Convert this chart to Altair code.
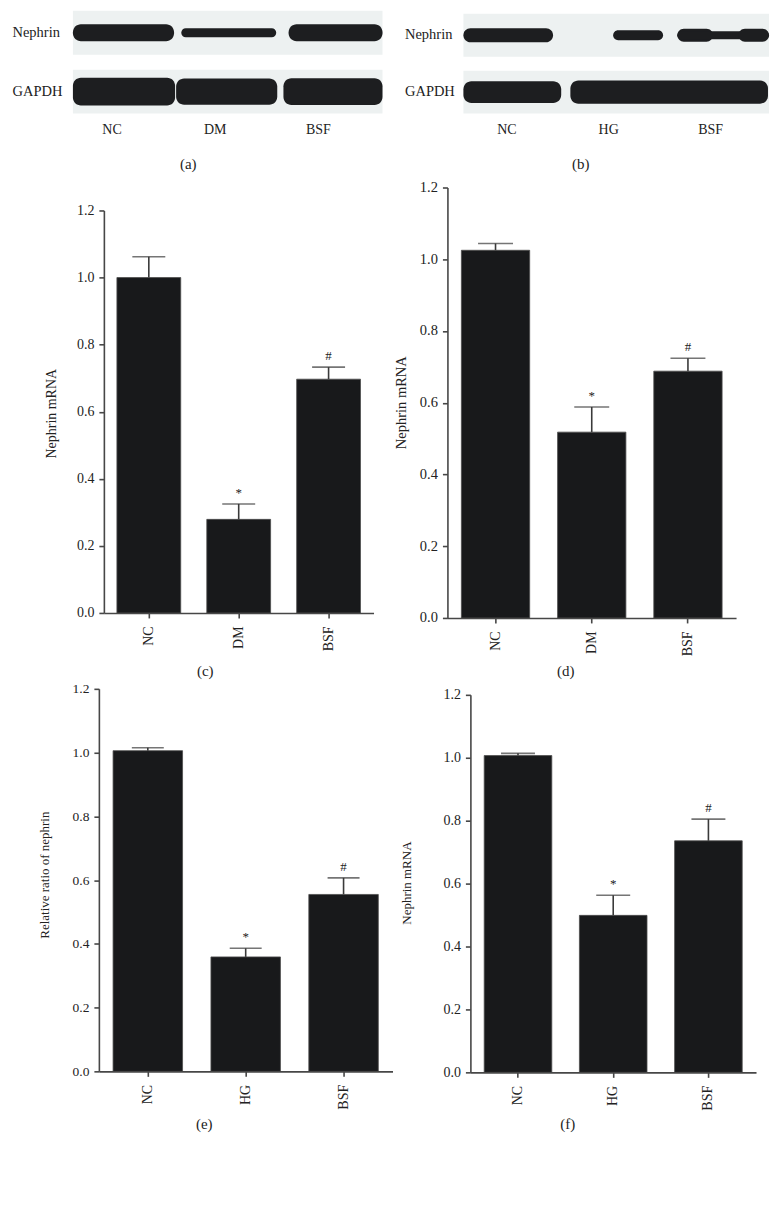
import json
import altair as alt
import pandas as pd

FONT = "Liberation Serif"
TEXT = "#222222"
AXIS = "#474747"
ERR = "#3a3a3a"
BAR = "#18191b"
BLOT_BG = "#edf1f1"

# ---------------- (a) Western blot, kidney tissue ----------------
a_lanes = ["NC", "DM", "BSF"]
a_rows = ["Nephrin", "GAPDH"]
a_band_row = ["Nephrin", "Nephrin", "Nephrin", "GAPDH", "GAPDH", "GAPDH"]
a_band_start = [0.00, 1.05, 2.09, 0.00, 1.00, 2.04]
a_band_end = [0.98, 1.97, 3.00, 0.99, 1.98, 3.00]
a_band_density = [0.57, 0.30, 0.57, 0.93, 0.87, 0.90]

# ---------------- (b) Western blot, podocytes ----------------
b_lanes = ["NC", "HG", "BSF"]
b_rows = ["Nephrin", "GAPDH"]
b_band_row = ["Nephrin", "Nephrin", "Nephrin", "Nephrin", "Nephrin", "GAPDH", "GAPDH"]
b_band_start = [0.00, 1.47, 2.10, 2.10, 2.70, 0.00, 1.05]
b_band_end = [0.88, 1.96, 2.45, 3.00, 3.00, 0.96, 2.99]
b_band_density = [0.47, 0.33, 0.43, 0.27, 0.43, 0.73, 0.77]

# ---------------- bar panels ----------------
y_ticks = [0.0, 0.2, 0.4, 0.6, 0.8, 1.0, 1.2]

c_groups = ["NC", "DM", "BSF"]
c_mean = [1.000, 0.279, 0.697]
c_sem = [0.062, 0.046, 0.036]
c_sig = ["", "*", "#"]

d_groups = ["NC", "DM", "BSF"]
d_mean = [1.025, 0.518, 0.688]
d_sem = [0.019, 0.070, 0.036]
d_sig = ["", "*", "#"]

e_groups = ["NC", "HG", "BSF"]
e_mean = [1.006, 0.359, 0.555]
e_sem = [0.009, 0.027, 0.052]
e_sig = ["", "*", "#"]

f_groups = ["NC", "HG", "BSF"]
f_mean = [1.007, 0.499, 0.736]
f_sem = [0.007, 0.064, 0.069]
f_sig = ["", "*", "#"]


def blot_panel(lanes, rows, band_row, band_start, band_end, band_density, colors,
               w, h, x_off, y_off, pad_inner, label_pad, label_offset, tag, tag_x, tag_y):
    n = len(lanes)
    bands = pd.DataFrame({"protein": band_row, "start": band_start,
                          "end": band_end, "density": band_density})
    bg = pd.DataFrame({"protein": rows, "start": [0] * len(rows), "end": [n] * len(rows)})
    label_expr = json.dumps(lanes) + "[floor(datum.value)]"
    xaxis = alt.Axis(values=[i + 0.5 for i in range(n)], labelExpr=label_expr,
                     grid=False, domain=False, ticks=False, tickSize=0,
                     labelOffset=label_offset, labelPadding=9, labelFontSize=14,
                     labelFlush=False, labelOverlap=False,
                     title=tag, titleX=tag_x, titleY=tag_y, titleAlign="center",
                     titleBaseline="middle", titleFontSize=15)
    yaxis = alt.Axis(domain=False, ticks=False, tickSize=0, labelAlign="left",
                     labelPadding=label_pad, labelFontSize=14.5, title=None)
    xs = alt.Scale(domain=[0, n], nice=False, zero=False, range=[x_off, w])
    ys = alt.Scale(domain=rows, paddingInner=pad_inner, paddingOuter=0, range=[y_off, h])
    x = alt.X("start:Q", scale=xs, axis=xaxis)
    y = alt.Y("protein:N", scale=ys, axis=yaxis, sort=rows)
    back = alt.Chart(bg).mark_rect(color=BLOT_BG).encode(x=x, x2="end:Q", y=y)
    blot = alt.Chart(bands).mark_bar(cornerRadius=8).encode(
        x=x, x2="end:Q", y=y,
        size=alt.Size("density:Q", scale=alt.Scale(domain=[0, 1], range=[0, 30]), legend=None),
        color=alt.Color("protein:N", scale=alt.Scale(domain=rows, range=colors), legend=None),
    )
    return alt.layer(back, blot).properties(width=w, height=h)


def bar_panel(groups, mean, sem, sig, ytitle, w, h, x_off, y_off, tag, tag_x, tag_y,
              yt_x, yt_y, fs_tick, fs_title, cap):
    df = pd.DataFrame({"group": groups, "mean": mean, "sem": sem, "sig": sig})
    base = alt.Chart(df).transform_calculate(upper="datum.mean + datum.sem")
    xs = alt.Scale(domain=groups, paddingInner=0.29, paddingOuter=0.145, range=[x_off, w])
    ys = alt.Scale(domain=[0, 1.2], nice=False, zero=True, range=[h, y_off])
    xaxis = alt.Axis(title=tag, titleX=tag_x, titleY=tag_y, titleAngle=0,
                     titleAlign="center", titleBaseline="middle", titleFontSize=15,
                     labelAngle=270, labelFontSize=14, labelPadding=8,
                     tickSize=5, tickColor=AXIS, tickWidth=1.6,
                     domainColor=AXIS, domainWidth=1.6)
    yaxis = alt.Axis(title=ytitle, titleX=yt_x, titleY=yt_y, titleAngle=270,
                     titleAlign="center", titleBaseline="middle", titleFontSize=fs_title,
                     values=y_ticks, format=".1f", labelFontSize=fs_tick, labelPadding=5,
                     tickSize=5, tickColor=AXIS, tickWidth=1.6, offset=-x_off,
                     domainColor=AXIS, domainWidth=1.6, grid=False)
    x = alt.X("group:N", scale=xs, axis=xaxis, sort=groups)
    bars = base.mark_bar(color=BAR, stroke="#4d4d4d", strokeWidth=0.8).encode(
        x=x, y=alt.Y("mean:Q", scale=ys, axis=yaxis))
    stem = base.mark_rule(color=ERR, strokeWidth=1.6).encode(
        x=x, y=alt.Y("mean:Q", scale=ys, axis=yaxis), y2="upper:Q")
    caps = base.mark_tick(color=ERR, thickness=1.6, size=cap).encode(
        x=x, y=alt.Y("upper:Q", scale=ys, axis=yaxis))
    sigs = base.mark_text(font=FONT, fontSize=13, color=TEXT, baseline="alphabetic", dy=-7).encode(
        x=x, y=alt.Y("upper:Q", scale=ys, axis=yaxis), text="sig:N")
    return alt.layer(bars, stem, caps, sigs).properties(width=w, height=h)


panel_a = blot_panel(a_lanes, a_rows, a_band_row, a_band_start, a_band_end, a_band_density,
                     ["#1d1e20", "#1d1e20"], 310, 103, 0, 0, 0.254, 61, -13, "(a)", 115, 50)
panel_b = blot_panel(b_lanes, b_rows, b_band_row, b_band_start, b_band_end, b_band_density,
                     ["#3b4145", "#141414"], 322, 103, 16, 3, 0.246, 43, -8, "(b)", 133, 50)

panel_c = bar_panel(c_groups, c_mean, c_sem, c_sig, "Nephrin mRNA", 301, 429, 31, 26,
                    "(c)", 132, 58, -52, 229, 14, 14, 33)
panel_d = bar_panel(d_groups, d_mean, d_sem, d_sig, "Nephrin mRNA", 289, 434, 0, 3,
                    "(d)", 118, 53, -46, 218, 14.5, 14.5, 35)
panel_e = bar_panel(e_groups, e_mean, e_sem, e_sig, "Relative ratio of nephrin", 320, 383, 26, 0,
                    "(e)", 131, 52, -54, 186, 13.5, 13, 32)
panel_f = bar_panel(f_groups, f_mean, f_sem, f_sig, "Nephrin mRNA", 309, 384, 23, 6,
                    "(f)", 120, 51, -64, 194, 14, 13, 34)

chart = (
    alt.concat(panel_a, panel_b, panel_c, panel_d, panel_e, panel_f,
               columns=2, spacing={"row": 71, "column": 55}, bounds="flush", align="each")
    .properties(padding={"left": 4, "top": 2, "right": 4, "bottom": 4}, background="white")
    .configure_view(stroke=None)
    .configure_axis(labelFont=FONT, titleFont=FONT, labelColor=TEXT, titleColor=TEXT,
                    titleFontWeight="normal")
    .configure_text(font=FONT)
)

chart.save("out.html", embed_options={"renderer": "svg", "actions": False})
